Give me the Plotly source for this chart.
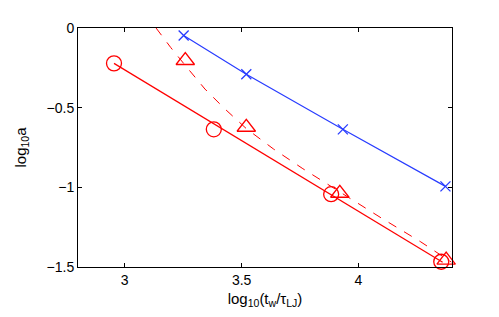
import plotly.graph_objects as go

# Blue crosses (connected)
blue_x = [3.252, 3.52, 3.933, 4.372]
blue_y = [-0.047, -0.29, -0.636, -0.994]

# Red circles and solid fit line
circ_x = [2.954, 3.381, 3.883, 4.354]
circ_y = [-0.222, -0.636, -1.043, -1.467]
fit_solid_x = [2.954, 4.36]
fit_solid_y = [-0.222, -1.47]

# Red triangles and dashed fit curve
tri_x = [3.259, 3.52, 3.92, 4.375]
tri_y = [-0.204, -0.623, -1.037, -1.457]
fit_dash_x = [3.134, 3.197, 3.259, 3.343, 3.427, 3.519, 3.636, 3.762, 3.929, 4.096, 4.264, 4.397]
fit_dash_y = [0.0, -0.123, -0.235, -0.383, -0.506, -0.630, -0.759, -0.883, -1.037, -1.191, -1.340, -1.469]

x_ticks = [3, 3.5, 4]
x_tick_text = ["3", "3.5", "4"]
y_ticks = [0, -0.5, -1, -1.5]
y_tick_text = ["0", "\u22120.5", "\u22121", "\u22121.5"]

RED = "rgb(255,0,0)"
BLUE = "rgb(40,60,255)"

fig = go.Figure()
fig.add_trace(go.Scatter(x=fit_dash_x, y=fit_dash_y, mode="lines",
                         line=dict(color=RED, width=1, dash="dash"), hoverinfo="skip"))
fig.add_trace(go.Scatter(x=fit_solid_x, y=fit_solid_y, mode="lines",
                         line=dict(color=RED, width=1.2), hoverinfo="skip"))
fig.add_trace(go.Scatter(x=blue_x, y=blue_y, mode="lines+markers",
                         line=dict(color=BLUE, width=1.2),
                         marker=dict(symbol="x-thin-open", size=10, color=BLUE,
                                     line=dict(color=BLUE, width=1.3)),
                         cliponaxis=False))
fig.add_trace(go.Scatter(x=circ_x, y=circ_y, mode="markers",
                         marker=dict(symbol="circle-open", size=15, color=RED,
                                     line=dict(color=RED, width=1.3)),
                         cliponaxis=False))
fig.add_trace(go.Scatter(x=tri_x, y=tri_y, mode="markers",
                         marker=dict(symbol="triangle-up-open", size=16, color=RED,
                                     line=dict(color=RED, width=1.3)),
                         cliponaxis=False))

axis_common = dict(showline=True, linecolor="black", linewidth=1, mirror="allticks",
                   ticks="inside", ticklen=4, tickcolor="black", tickwidth=1,
                   showgrid=False, zeroline=False,
                   tickfont=dict(family="Liberation Sans, Arial, sans-serif", size=14, color="black"))

fig.update_layout(
    width=491, height=309,
    margin=dict(l=62, r=47, t=16, b=50),
    paper_bgcolor="white", plot_bgcolor="white",
    showlegend=False,
    font=dict(family="Liberation Sans, Arial, sans-serif", size=14, color="black"),
    xaxis=dict(range=[2.8, 4.4], tickvals=x_ticks, ticktext=x_tick_text,
               title=dict(text="log<sub>10</sub>(t<sub>w</sub>/\u03c4<sub>LJ</sub>)", standoff=6,
                          font=dict(size=15)),
               **axis_common),
    yaxis=dict(range=[-1.5, 0], tickvals=y_ticks, ticktext=y_tick_text,
               title=dict(text="log<sub>10</sub>a", standoff=16, font=dict(size=15)),
               **axis_common),
)

fig.write_html("out.html")
